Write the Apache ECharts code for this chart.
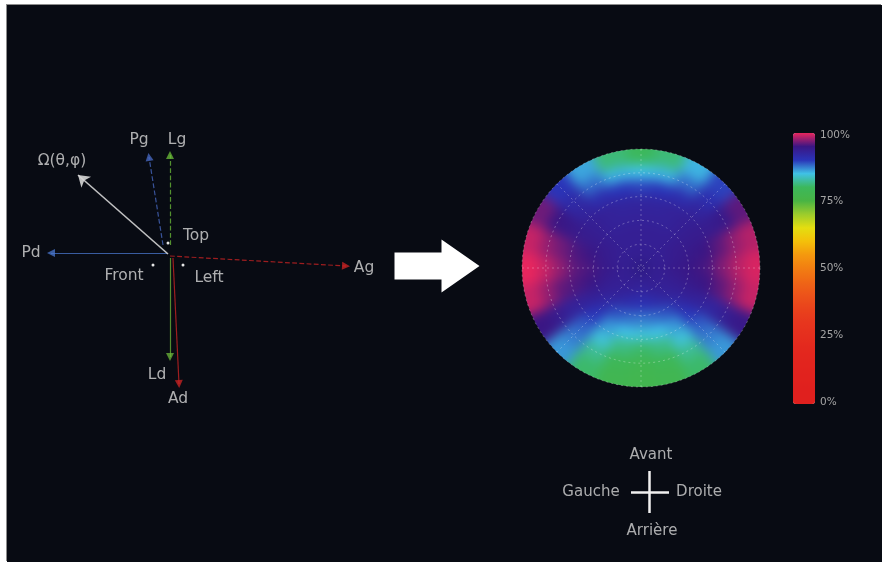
<!DOCTYPE html>
<html>
<head>
<meta charset="utf-8">
<script src="https://cdn.jsdelivr.net/npm/echarts@6/dist/echarts.min.js"></script>
<style>
html, body { margin: 0; padding: 0; background: #fff; }
#bg { position: absolute; left: 7px; top: 5px; width: 875px; height: 557px; background: #080b13; box-shadow: -1px -1px 0 #8c8c8c; }
#sphereWrap { position: absolute; left: 522px; top: 149px; width: 238px; height: 238px; border-radius: 50%; overflow: hidden; }
#sphere { position: absolute; left: -20px; top: -20px; width: 278px; height: 278px; filter: blur(6px); }
#main { position: absolute; left: 7px; top: 5px; width: 875px; height: 557px; }
</style>
</head>
<body>
<div id="bg"></div>
<div id="sphereWrap"><div id="sphere"></div></div>
<div id="main"></div>
<script>
// ---- sphere map: 8 rings (centre -> edge) x 24 sectors, clockwise from the top ----
var sectorAngles = [0, 15, 30, 45, 60, 75, 90, 105, 120, 135, 150, 165, 180, 195, 210, 225, 240, 255, 270, 285, 300, 315, 330, 345];
var ring0 = [93.5, 93.5, 93.5, 93.5, 93.5, 93.5, 93.5, 93.5, 93.5, 93.5, 93.5, 93.5, 93.5, 93.5, 93.5, 93.5, 93.5, 93.5, 93.5, 93.5, 93.5, 93.5, 93.5, 93.5];
var ring1 = [93.5, 93.5, 93.5, 93.5, 93.5, 93.5, 94, 93.5, 93.5, 93.5, 93.5, 93, 92.5, 93, 93.5, 93.5, 93.5, 93.5, 94, 93.5, 93.5, 93.5, 93.5, 93.5];
var ring2 = [93.5, 93.5, 93.5, 93.5, 94, 94, 94.5, 94, 93.5, 93, 92, 91, 90.5, 91, 92, 93, 93.5, 94, 94.5, 94, 94, 93.5, 93.5, 93.5];
var ring3 = [93, 93, 93, 93.5, 94, 94.5, 95, 94.5, 93.5, 91.5, 89, 88, 87.5, 88, 89, 91.5, 93.5, 95, 95.5, 95, 94, 93.5, 93, 93];
var ring4 = [92.5, 92.5, 93, 93.5, 94, 95, 95.5, 95, 93, 90, 86.5, 85, 84.5, 85, 86.5, 90, 93, 95.5, 96, 95.5, 94, 93.5, 93, 92.5];
var ring5 = [89.5, 90, 91, 92.5, 94, 96, 97, 96, 92.5, 88.5, 84.5, 81.5, 80.5, 81.5, 84.5, 88.5, 93, 96, 97.5, 96.5, 94.5, 92.5, 91, 90];
var ring6 = [85, 85.5, 88, 91, 94.5, 97.5, 98.5, 97.5, 93.5, 87.5, 82, 79, 78, 79, 82, 87.5, 94, 97.5, 99, 97.5, 95, 91.5, 88, 85.5];
var ring7 = [80, 81, 85.5, 89.5, 96, 98.5, 99.5, 99, 94.5, 86.5, 80.5, 78, 77.5, 78, 80.5, 86.5, 95, 99, 100, 99, 96.5, 90, 86, 81];
var rings = [ring0, ring1, ring2, ring3, ring4, ring5, ring6, ring7];

// ---- colour bar ticks (%) ----
var scaleTicks = [0, 25, 50, 75, 100];

// ---- vector diagram (page pixels) ----
var vectorNames = ['Pd', 'Ag', 'Pg', 'Lg', 'Ld', 'Ad'];
var vectorStarts = [[167, 253], [170, 256], [163, 245], [170, 245], [170, 258], [173, 258]];
var vectorTips = [[51, 253], [346, 266], [149, 157], [170, 155], [170, 357], [179, 384]];
var omegaStart = [168, 254];
var omegaTip = [78, 175];
var labelNames = ['Pd', 'Ag', 'Pg', 'Lg', 'Ld', 'Ad', 'Ω(θ,φ)', 'Top', 'Front', 'Left'];
var labelPoints = [[31, 253], [364, 268], [139, 140], [177, 140], [157, 375], [178, 399], [62, 161], [196, 236], [124, 276], [209, 278]];
var markerPoints = [[168, 243], [153, 265], [183, 265]];

// ---- orientation legend ----
var legendNames = ['Avant', 'Gauche', 'Droite', 'Arrière'];
var legendPoints = [[651, 455], [591, 492], [699, 492], [652, 531]];
var crossArms = [[[631, 492], [669, 492]], [[649, 471], [649, 513]]];
var bigArrowAt = [437, 266];

var vectorColors = ['#4a78d0', '#d02424', '#4a6cc8', '#6cc03a', '#6cb83a', '#d02424'];
var vectorTypes = ['solid', 'dashed', 'dashed', 'dashed', 'solid', 'solid'];
var colorStops = ['#e0201e', '#e0201e', '#e1221e', '#e2241e', '#e3281e', '#e52e1e', '#e7361e', '#e9421c', '#ec521a', '#ef6616',
  '#f27e12', '#f4980e', '#f4c00a', '#e4de10', '#9ccc2c', '#48b444', '#3cb85c', '#40c2e6', '#2a34b8', '#3a1684', '#e8265e'];
var textFont = 'DejaVu Sans';

var sphereData = [];
rings.forEach(function (vals, r) {
    vals.forEach(function (v, s) {
        sphereData.push([r, sectorAngles[s], v]);
    });
});
var halfSector = 360 / sectorAngles.length / 2;
var lastRing = rings.length - 1;

// sphere layer (blurred, clipped to the disc by its wrapper)
var sphereChart = echarts.init(document.getElementById('sphere'));
sphereChart.setOption({
    animation: false,
    polar: { center: ['50%', '50%'], radius: 119 },
    radiusAxis: { min: 0, max: 8, show: false, splitLine: { show: false } },
    angleAxis: { type: 'value', min: 0, max: 360, startAngle: 90, clockwise: true, show: false, splitLine: { show: false } },
    visualMap: {
        type: 'continuous', show: false, min: 0, max: 100, seriesIndex: 0, dimension: 2,
        inRange: { color: colorStops }
    },
    series: [{
        type: 'custom',
        coordinateSystem: 'polar',
        clip: false,
        data: sphereData,
        encode: { radius: 0, angle: 1 },
        renderItem: function (params, api) {
            var ring = api.value(0), ang = api.value(1);
            var c = api.coord([0, 0]);
            var pA = api.coord([ring + 1, ang - halfSector - 0.6]);
            var pB = api.coord([ring + 1, ang + halfSector + 0.6]);
            var pIn = api.coord([ring, ang]);
            var r = Math.hypot(pA[0] - c[0], pA[1] - c[1]) + 0.6;
            if (ring === lastRing) r += 16;
            var r0 = ring === 0 ? 0 : Math.max(0, Math.hypot(pIn[0] - c[0], pIn[1] - c[1]) - 0.6);
            var a0 = Math.atan2(pA[1] - c[1], pA[0] - c[0]);
            var a1 = Math.atan2(pB[1] - c[1], pB[0] - c[0]);
            if (a1 < a0) a1 += Math.PI * 2;
            return {
                type: 'sector',
                shape: { cx: c[0], cy: c[1], r0: r0, r: r, startAngle: a0, endAngle: a1, clockwise: true },
                style: { fill: api.visual('color') }
            };
        }
    }]
});

// everything else
var myChart = echarts.init(document.getElementById('main'));
var option = {
    backgroundColor: 'transparent',
    animation: false,
    grid: [
        { left: 0, right: 0, top: 0, bottom: 0 },
        { left: 786, top: 130, width: 22, height: 267 }
    ],
    xAxis: [
        { type: 'value', min: 7, max: 882, show: false, gridIndex: 0 },
        { type: 'value', show: false, gridIndex: 1 }
    ],
    yAxis: [
        { type: 'value', min: 5, max: 562, inverse: true, show: false, gridIndex: 0 },
        {
            type: 'value', gridIndex: 1, min: scaleTicks[0], max: scaleTicks[scaleTicks.length - 1], interval: 25, position: 'right',
            axisLine: { show: false }, axisTick: { show: false }, splitLine: { show: false },
            axisLabel: { color: '#a4a4a4', fontSize: 10.5, margin: 5, fontFamily: textFont, formatter: '{value}%' }
        }
    ],
    polar: { center: [634, 263], radius: 119 },
    radiusAxis: {
        min: 0, max: 8, interval: 1.6,
        axisLine: { show: false }, axisTick: { show: false }, axisLabel: { show: false },
        splitLine: { show: true, lineStyle: { color: 'rgba(255,255,255,0.3)', type: [2, 3], width: 1 } }
    },
    angleAxis: {
        type: 'value', min: 0, max: 360, interval: 45, startAngle: 90, clockwise: true,
        axisLine: { show: false }, axisTick: { show: false }, axisLabel: { show: false },
        splitLine: { show: true, lineStyle: { color: 'rgba(255,255,255,0.28)', type: [2, 3], width: 1 } }
    },
    visualMap: {
        type: 'continuous', min: 0, max: 100, seriesIndex: 7, dimension: 0,
        left: 786, top: 128, itemWidth: 22, itemHeight: 271, padding: 0,
        calculable: false, hoverLink: false,
        inRange: { color: colorStops }
    },
    series: [
        {
            type: 'lines',
            coordinateSystem: 'cartesian2d',
            symbol: ['none', 'triangle'],
            symbolSize: 8,
            data: vectorNames.map(function (n, i) {
                return {
                    coords: [vectorStarts[i], vectorTips[i]],
                    lineStyle: { color: vectorColors[i], type: vectorTypes[i], width: 1.2, opacity: 0.75 }
                };
            })
        },
        {
            type: 'lines',
            coordinateSystem: 'cartesian2d',
            symbol: ['none', 'arrow'],
            symbolSize: 11,
            lineStyle: { color: '#d6d6d6', width: 1.6, opacity: 0.9 },
            data: [{ coords: [omegaStart, omegaTip] }]
        },
        {
            type: 'lines',
            coordinateSystem: 'cartesian2d',
            lineStyle: { color: '#f0f0f0', width: 2.5, opacity: 1 },
            data: crossArms.map(function (a) { return { coords: a }; })
        },
        {
            type: 'scatter',
            symbolSize: 0,
            label: { show: true, position: 'inside', formatter: '{b}', color: '#d8d8d8', fontSize: 15.5, fontFamily: textFont },
            data: labelNames.map(function (n, i) { return { name: n, value: labelPoints[i] }; })
        },
        {
            type: 'scatter',
            symbolSize: 0,
            label: { show: true, position: 'inside', formatter: '{b}', color: '#d4d4d4', fontSize: 15, fontFamily: textFont },
            data: legendNames.map(function (n, i) { return { name: n, value: legendPoints[i] }; })
        },
        {
            type: 'scatter',
            symbol: 'circle',
            symbolSize: 3,
            itemStyle: { color: '#e6e6e6', opacity: 1 },
            data: markerPoints
        },
        {
            type: 'scatter',
            symbol: 'path://M0,13L47,13L47,0L85,26.5L47,53L47,40L0,40Z',
            symbolSize: [85, 53],
            itemStyle: { color: '#ffffff', opacity: 1 },
            data: [bigArrowAt]
        },
        { type: 'scatter', data: [] }
    ]
};
myChart.setOption(option);
window.addEventListener('resize', function () {
    sphereChart.resize();
    myChart.resize();
});
</script>
</body>
</html>
